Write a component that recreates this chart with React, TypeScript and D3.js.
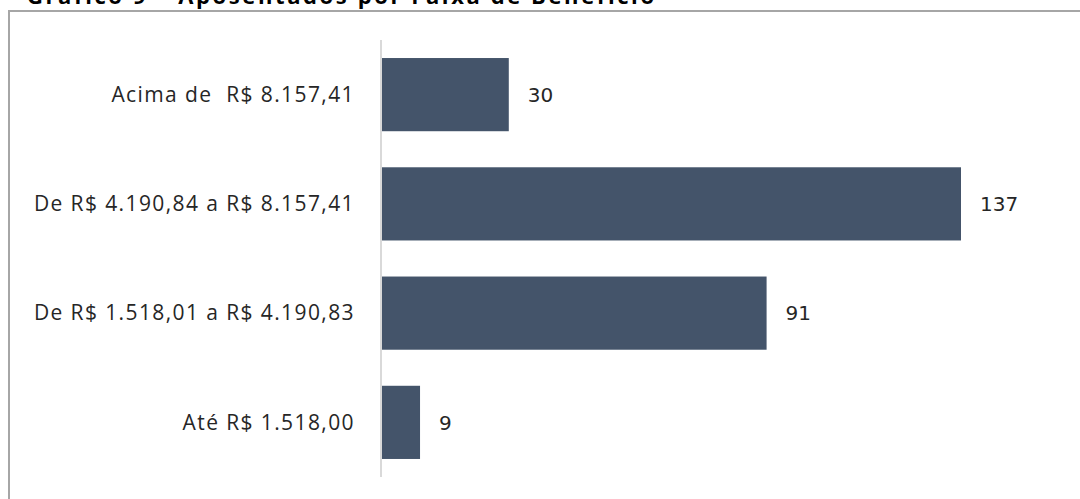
import { useMemo } from "react";
import * as d3 from "d3";

const categories = [
  "Acima de  R$ 8.157,41",
  "De R$ 4.190,84 a R$ 8.157,41",
  "De R$ 1.518,01 a R$ 4.190,83",
  "Até R$ 1.518,00",
];
const values = [30, 137, 91, 9];
const title = "Gráfico 9 – Aposentados por Faixa de Benefício";

const W = 1080;
const H = 499;

export default function App() {
  const x = useMemo(() => d3.scaleLinear().domain([0, 137]).range([382, 961]), []);
  const y = useMemo(
    () => d3.scaleBand<string>().domain(categories).range([40, 477]).paddingInner(0.33).paddingOuter(0.165),
    []
  );

  return (
    <svg
      width={W}
      height={H}
      style={{ position: "absolute", left: 0, top: 0, background: "#fff" }}
    >
      {/* title, clipped at the top like the source */}
      <text
        x={27}
        y={4}
        fontFamily="Open Sans"
        fontWeight="bold"
        fontSize={22}
        letterSpacing={2.6}
        fill="#000"
      >
        {title}
      </text>

      {/* frame */}
      <path d={`M9,${H} L9,11 L${W},11`} fill="none" stroke="#a6a6a6" strokeWidth={2} />

      {/* category axis line */}
      <line x1={381} x2={381} y1={40} y2={477} stroke="#d9d9d9" strokeWidth={2} />

      {categories.map((c, i) => (
        <g key={c}>
          <rect
            x={x(0)}
            y={y(c)}
            width={x(values[i]) - x(0)}
            height={y.bandwidth()}
            fill="#44546a"
          />
          <text
            x={355}
            y={(y(c) ?? 0) + y.bandwidth() / 2}
            dy="0.35em"
            textAnchor="end"
            fontFamily="Open Sans"
            fontSize={21}
            letterSpacing={1.4}
            fill="#262626"
            style={{ whiteSpace: "pre" }}
          >
            {c}
          </text>
          <text
            x={x(values[i]) + 19}
            y={(y(c) ?? 0) + y.bandwidth() / 2}
            dy="0.36em"
            fontFamily="DejaVu Sans"
            fontSize={20}
            fill="#262626"
          >
            {values[i]}
          </text>
        </g>
      ))}
    </svg>
  );
}
